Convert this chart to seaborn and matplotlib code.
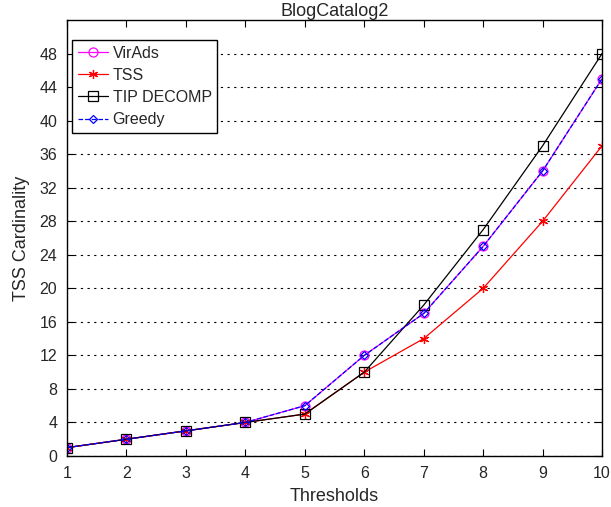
import pandas as pd
import matplotlib
matplotlib.use("Agg")
import matplotlib.pyplot as plt
import seaborn as sns

thresholds = [1, 2, 3, 4, 5, 6, 7, 8, 9, 10]
virads = [1, 2, 3, 4, 6, 12, 17, 25, 34, 45]
tss = [1, 2, 3, 4, 5, 10, 14, 20, 28, 37]
tip_decomp = [1, 2, 3, 4, 5, 10, 18, 27, 37, 48]
greedy = [1, 2, 3, 4, 6, 12, 17, 25, 34, 45]

sns.set_style("ticks")
plt.rcParams['font.family'] = ['Liberation Sans', 'DejaVu Sans']

fig = plt.figure(figsize=(6.11, 5.07), dpi=100)
ax = fig.add_axes([0.1097, 0.1006, 0.8757, 0.86])

series = [
    ("VirAds", virads, "#ff00ff", "o", "-"),
    ("TSS", tss, "#ff0000", (6, 2, 0), "-"),
    ("TIP DECOMP", tip_decomp, "black", "s", "-"),
    ("Greedy", greedy, "#0000ff", "D", "--"),
]
for name, vals, col, mk, ls in series:
    df = pd.DataFrame({"Thresholds": thresholds, "TSS Cardinality": vals})
    ms = 4.5 if mk == "D" else 6.5
    sns.lineplot(data=df, x="Thresholds", y="TSS Cardinality", ax=ax, label=name,
                 color=col, marker=mk, markersize=ms, linestyle=ls, linewidth=0.9,
                 markerfacecolor="none", markeredgecolor=col, markeredgewidth=0.9)

ax.set_xlim(1, 10)
ax.set_ylim(0, 52)
ax.set_xticks(range(1, 11))
ax.set_yticks(range(0, 49, 4))
ax.yaxis.grid(True, linestyle=(0, (2, 4)), color="black", linewidth=0.8)
ax.xaxis.grid(False)
ax.tick_params(direction="in", top=True, right=True, bottom=True, left=True,
               length=5, width=0.8, labelsize=11.5, color="black")
ax.tick_params(axis="x", pad=7)
ax.tick_params(axis="y", pad=7)
for sp in ax.spines.values():
    sp.set_visible(True)
    sp.set_color("black")
    sp.set_linewidth(1.0)
ax.set_xlabel("Thresholds", fontsize=13, labelpad=5)
ax.set_ylabel("TSS Cardinality", fontsize=13, labelpad=7)
ax.set_title("BlogCatalog2", fontsize=13, pad=3)

leg = ax.legend(loc="upper left", bbox_to_anchor=(0.0093, 0.954), fontsize=11.5,
                frameon=True, fancybox=False, borderaxespad=0, handlelength=1.9,
                borderpad=0.35, labelspacing=0.45, handletextpad=0.3)
leg.get_frame().set_edgecolor("black")
leg.get_frame().set_linewidth(1.0)
leg.get_frame().set_alpha(1)

fig.savefig("out.png", dpi=100)
